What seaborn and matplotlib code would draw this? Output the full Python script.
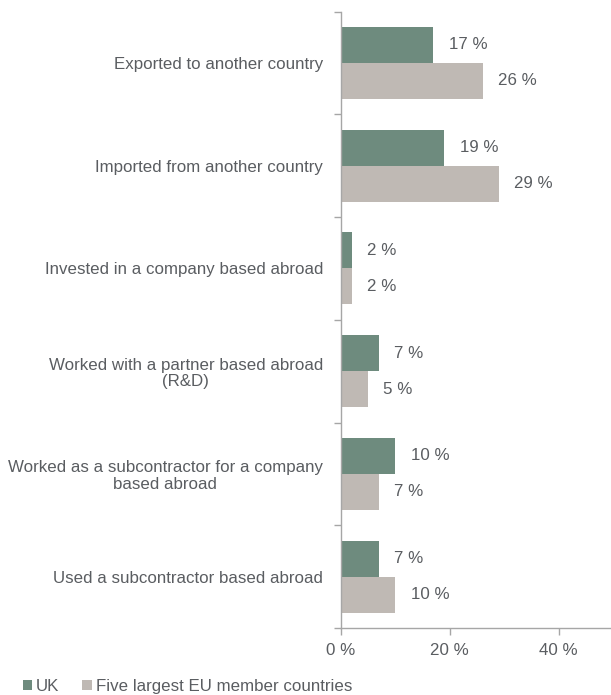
import matplotlib
matplotlib.use("Agg")
import matplotlib.pyplot as plt
import seaborn as sns
import pandas as pd
import numpy as np
from matplotlib.patches import Patch

categories = [
    "Exported to another country",
    "Imported from another country",
    "Invested in a company based abroad",
    "Worked with a partner based abroad\n(R&D)",
    "Worked as a subcontractor for a company\nbased abroad",
    "Used a subcontractor based abroad",
]
series_names = ["UK", "Five largest EU member countries"]
uk_values = [17, 19, 2, 7, 10, 7]
eu_values = [26, 29, 2, 5, 7, 10]
x_ticks = [0, 20, 40]
x_tick_labels = ["0 %", "20 %", "40 %"]

df = pd.DataFrame({
    "category": categories * 2,
    "series": [series_names[0]] * len(categories) + [series_names[1]] * len(categories),
    "value": uk_values + eu_values,
})

sns.set_theme(style="white")
plt.rcParams["font.family"] = ["Liberation Sans", "DejaVu Sans"]

text_color = "#5a5d61"
axis_color = "#a6a6a6"
colors = ["#6e8b7e", "#bfb9b4"]
fs = 12.2

fig = plt.figure(figsize=(6.11, 6.95), dpi=100)
ax = fig.add_axes([0.558, 0.0964, 0.442, 0.887])

sns.barplot(data=df, y="category", x="value", hue="series", orient="h",
            palette=colors, width=0.7, order=categories, hue_order=series_names,
            ax=ax, legend=False, saturation=1, linewidth=0, edgecolor="none")

for cont, vals in zip(ax.containers, [uk_values, eu_values]):
    ax.bar_label(cont, labels=[f"{v} %" for v in vals], padding=11,
                 fontsize=fs, color=text_color)

ax.set_xlim(0, 49.6)
ax.set_ylim(len(categories) - 0.5, -0.5)
ax.set_xticks(x_ticks)
ax.set_xticklabels(x_tick_labels)
ax.set_xlabel("")
ax.set_ylabel("")

ax.set_yticks(np.arange(len(categories)))
ax.set_yticklabels(categories)
for lab in ax.get_yticklabels():
    lab.set_multialignment("center")
    lab.set_linespacing(1.15)
ax.set_yticks(np.arange(-0.5, len(categories), 1), minor=True)
ax.tick_params(axis="y", which="major", length=0, pad=13, labelsize=fs, labelcolor=text_color)
ax.tick_params(axis="y", which="minor", length=5, width=1, color=axis_color, left=True, direction="out")
ax.tick_params(axis="x", which="major", length=5, width=1, color=axis_color, bottom=True,
               direction="out", labelsize=fs, labelcolor=text_color, pad=6)

for s in ["top", "right"]:
    ax.spines[s].set_visible(False)
for s in ["left", "bottom"]:
    ax.spines[s].set_color(axis_color)
    ax.spines[s].set_linewidth(1)

handles = [Patch(facecolor=c, edgecolor="none") for c in colors]
fig.legend(handles, series_names, loc="lower left", bbox_to_anchor=(0.012, -0.021),
           ncol=2, frameon=False, fontsize=fs, handlelength=0.55, handleheight=0.55,
           handletextpad=0.25, columnspacing=1.35, labelcolor=text_color)

fig.savefig("out.png", dpi=100)
